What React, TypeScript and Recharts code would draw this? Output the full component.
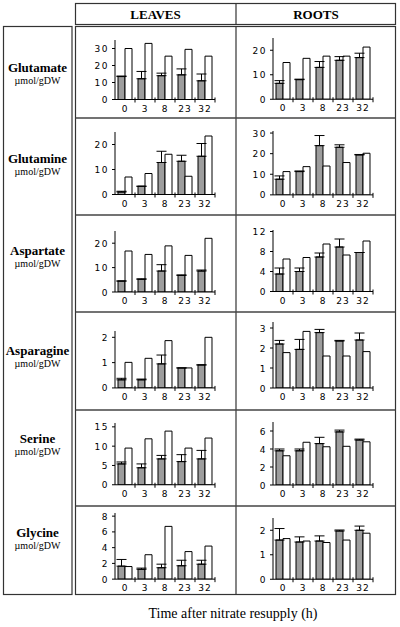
import React from 'react';
import { BarChart, Bar, XAxis, YAxis, ErrorBar } from 'recharts';

// Time points (h)
const times = ['0', '3', '8', '23', '32'];

// Glutamate
const gluLGray = [13.5, 12.2, 14, 14.5, 11];
const gluLErr = [0.3, 4.3, 1.5, 3.5, 4];
const gluLWhite = [30, 33, 25.5, 29.5, 25.5];
const gluRGray = [6.5, 8, 13, 15.9, 17];
const gluRErr = [1.1, 0.2, 2.4, 1.5, 1.8];
const gluRWhite = [15, 16.7, 17.6, 17.6, 21.3];

// Glutamine
const glnLGray = [1, 3.3, 12.8, 13.3, 15.3];
const glnLErr = [0.3, 0, 4.5, 2.4, 5.1];
const glnLWhite = [7, 8.4, 16.1, 7.3, 23.4];
const glnRGray = [7.6, 11.3, 23.9, 23.1, 19.4];
const glnRErr = [1.6, 0.3, 4.9, 1.2, 0.2];
const glnRWhite = [11.3, 13.7, 14, 15.7, 20.2];

// Aspartate
const aspLGray = [4.5, 5.2, 8.6, 6.8, 8.6];
const aspLErr = [0, 0.2, 2.6, 0.2, 0.4];
const aspLWhite = [16.8, 15.4, 18.9, 15, 22];
const aspRGray = [3.5, 4, 6.9, 8.9, 7.8];
const aspRErr = [1.2, 0.7, 0.8, 1.6, 0];
const aspRWhite = [6.5, 6.8, 9.5, 7.3, 10.1];

// Asparagine
const asnLGray = [0.32, 0.32, 0.95, 0.79, 0.91];
const asnLErr = [0.06, 0.03, 0.35, 0, 0];
const asnLWhite = [1.01, 1.17, 1.87, 0.79, 2.0];
const asnRGray = [2.2, 1.93, 2.77, 2.35, 2.4];
const asnRErr = [0.18, 0.5, 0.16, 0.03, 0.35];
const asnRWhite = [1.77, 2.83, 1.6, 1.6, 1.82];

// Serine
const serLGray = [5.4, 4.4, 6.7, 6, 6.7];
const serLErr = [0.5, 1, 0.9, 1.8, 2.2];
const serLWhite = [9.5, 11.9, 13.9, 9.5, 12.1];
const serRGray = [3.8, 3.8, 4.6, 5.9, 5.0];
const serRErr = [0.2, 0.2, 0.7, 0.2, 0.1];
const serRWhite = [3.25, 4.75, 4.25, 4.3, 4.8];

// Glycine
const glyLGray = [1.65, 1.25, 1.45, 1.7, 1.9];
const glyLErr = [0.85, 0.15, 0.45, 0.7, 0.5];
const glyLWhite = [1.6, 3.1, 6.7, 3.5, 4.2];
const glyRGray = [1.6, 1.52, 1.56, 1.97, 2.0];
const glyRErr = [0.47, 0.21, 0.21, 0.04, 0.17];
const glyRWhite = [1.66, 1.56, 1.5, 1.6, 1.88];

// Y tick labels
const ticks0to30 = [0, 10, 20, 30];
const ticks0to20 = [0, 10, 20];
const ticks0to12 = [0, 4, 8, 12];
const ticks0to2 = [0, 1, 2];
const ticks0to3 = [0, 1, 2, 3];
const ticks0to15 = [0, 5, 10, 15];
const ticks0to6 = [0, 2, 4, 6];
const ticks0to8 = [0, 2, 4, 6, 8];

const metabolites = ['Glutamate', 'Glutamine', 'Aspartate', 'Asparagine', 'Serine', 'Glycine'];
const unitLabel = 'µmol/gDW';
const organs = ['LEAVES', 'ROOTS'];
const xTitle = 'Time after nitrate resupply (h)';

// layout
const rowBaselines = [99.5, 194.5, 291.5, 387.5, 484.5, 579.5];
const rowLabelY = [67, 158, 250, 350, 438, 532];
const rowDividers = [118, 215, 312, 410, 506];
const LEAVES_X = 115;
const ROOTS_X = 273;

type Panel = { gray: number[]; err: number[]; white: number[]; ticks: number[]; max: number; ppu: number };

const panels: Panel[][] = [
  [
    { gray: gluLGray, err: gluLErr, white: gluLWhite, ticks: ticks0to30, max: 35, ppu: 1.7 },
    { gray: gluRGray, err: gluRErr, white: gluRWhite, ticks: ticks0to20, max: 25, ppu: 2.45 },
  ],
  [
    { gray: glnLGray, err: glnLErr, white: glnLWhite, ticks: ticks0to20, max: 25, ppu: 2.5 },
    { gray: glnRGray, err: glnRErr, white: glnRWhite, ticks: ticks0to30, max: 31, ppu: 2.06 },
  ],
  [
    { gray: aspLGray, err: aspLErr, white: aspLWhite, ticks: ticks0to20, max: 25, ppu: 2.44 },
    { gray: aspRGray, err: aspRErr, white: aspRWhite, ticks: ticks0to12, max: 12.3, ppu: 5 },
  ],
  [
    { gray: asnLGray, err: asnLErr, white: asnLWhite, ticks: ticks0to2, max: 2.25, ppu: 25.3 },
    { gray: asnRGray, err: asnRErr, white: asnRWhite, ticks: ticks0to3, max: 3.3, ppu: 20 },
  ],
  [
    { gray: serLGray, err: serLErr, white: serLWhite, ticks: ticks0to15, max: 16, ppu: 3.86 },
    { gray: serRGray, err: serRErr, white: serRWhite, ticks: ticks0to6, max: 7, ppu: 9 },
  ],
  [
    { gray: glyLGray, err: glyLErr, white: glyLWhite, ticks: ticks0to8, max: 8.4, ppu: 7.875 },
    { gray: glyRGray, err: glyRErr, white: glyRWhite, ticks: ticks0to2, max: 2.5, ppu: 24.5 },
  ],
];

const TICK_FONT = "'DejaVu Sans', Verdana, sans-serif";
const SERIF = "'Liberation Serif', 'Times New Roman', serif";

const XTick = (props: any) => {
  const { x, y, payload } = props;
  return (
    <g>
      <line x1={x + 10} x2={x + 10} y1={y - 2} y2={y + 3} stroke="#000" strokeWidth={1} />
      <text x={x} y={y + 12} textAnchor="middle" fontSize={9} fontFamily={TICK_FONT} letterSpacing={1} fill="#000">
        {payload.value}
      </text>
    </g>
  );
};

const YTick = (props: any) => {
  const { x, y, payload } = props;
  return (
    <text x={x} y={y + 3.5} textAnchor="end" fontSize={9} fontFamily={TICK_FONT} letterSpacing={1.5} fill="#000">
      {payload.value}
    </text>
  );
};

function Mini({ p, plotLeft, baseline }: { p: Panel; plotLeft: number; baseline: number }) {
  const plotH = p.max * p.ppu;
  const mTop = 4;
  const yW = 30;
  const plotW = 100;
  const data = times.map((t, i) => ({ t, g: p.gray[i], e: [0, p.err[i]], w: p.white[i] }));
  return (
    <div style={{ position: 'absolute', left: plotLeft - yW, top: baseline - plotH - mTop }}>
      <BarChart
        width={yW + plotW + 5}
        height={mTop + plotH + 20}
        data={data}
        margin={{ top: mTop, right: 5, left: 0, bottom: 0 }}
        barGap={0}
        barSize={7}
      >
        <XAxis
          dataKey="t"
          height={20}
          tickSize={0}
          tickMargin={0}
          tickLine={false}
          interval={0}
          axisLine={{ stroke: '#000' }}
          tick={(tp: any) => <XTick {...tp} />}
        />
        <YAxis
          width={yW}
          type="number"
          domain={[0, p.max]}
          ticks={p.ticks}
          allowDataOverflow
          interval={0}
          tickSize={3}
          tickMargin={3}
          axisLine={{ stroke: '#000' }}
          tickLine={{ stroke: '#000' }}
          tick={(tp: any) => <YTick {...tp} />}
        />
        <Bar dataKey="g" fill="#9d9d9d" stroke="#000" strokeWidth={1} isAnimationActive={false}>
          <ErrorBar dataKey="e" width={5} stroke="#000" strokeWidth={1} direction="y" isAnimationActive={false} />
        </Bar>
        <Bar dataKey="w" fill="#fff" stroke="#000" strokeWidth={1} isAnimationActive={false} />
      </BarChart>
    </div>
  );
}

export default function App() {
  return (
    <div style={{ position: 'absolute', left: 0, top: 0, width: 400, height: 627, background: '#fff' }}>
      <svg width={400} height={627} style={{ position: 'absolute', left: 0, top: 0 }}>
        {/* header */}
        <rect x={75.5} y={3.5} width={320} height={21} fill="none" stroke="#333" strokeWidth={1.2} />
        <line x1={236} x2={236} y1={3.5} y2={24.5} stroke="#333" strokeWidth={1.2} />
        <text x={155.5} y={19} textAnchor="middle" fontFamily={SERIF} fontWeight="bold" fontSize={13}>{organs[0]}</text>
        <text x={316} y={19} textAnchor="middle" fontFamily={SERIF} fontWeight="bold" fontSize={13}>{organs[1]}</text>
        {/* left label box */}
        <rect x={3.5} y={26.5} width={68.5} height={568} fill="none" stroke="#333" strokeWidth={1.2} />
        {/* main grid */}
        <rect x={75.5} y={26.5} width={320} height={568} fill="none" stroke="#333" strokeWidth={1.2} />
        <line x1={236} x2={236} y1={26.5} y2={594.5} stroke="#333" strokeWidth={1.2} />
        {rowDividers.map((y) => (
          <line key={y} x1={75.5} x2={395.5} y1={y} y2={y} stroke="#444" strokeWidth={1.5} />
        ))}
        {metabolites.map((m, i) => (
          <g key={m}>
            <text x={37.5} y={rowLabelY[i] + 4.5} textAnchor="middle" fontFamily={SERIF} fontWeight="bold" fontSize={13}>{m}</text>
            <text x={37.5} y={rowLabelY[i] + 17} textAnchor="middle" fontFamily={SERIF} fontSize={10}>{unitLabel}</text>
          </g>
        ))}
        <text x={233} y={618} textAnchor="middle" fontFamily={SERIF} fontSize={14}>{xTitle}</text>
      </svg>
      {panels.map((row, i) => (
        <React.Fragment key={i}>
          <Mini p={row[0]} plotLeft={LEAVES_X} baseline={rowBaselines[i]} />
          <Mini p={row[1]} plotLeft={ROOTS_X} baseline={rowBaselines[i]} />
        </React.Fragment>
      ))}
    </div>
  );
}
